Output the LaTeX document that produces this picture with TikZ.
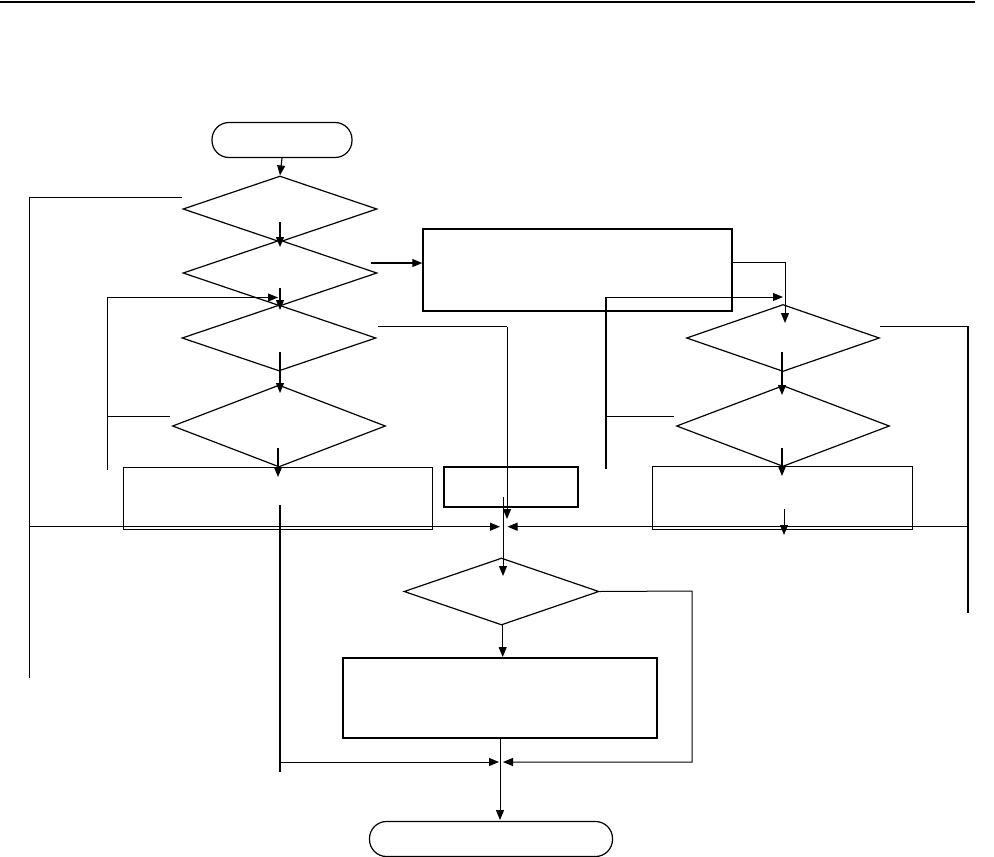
\documentclass[tikz,border=0pt]{standalone}
\usetikzlibrary{shapes.geometric,arrows.meta}
\begin{document}
\begin{tikzpicture}[x=1pt,y=-1pt,
  thick line/.style={line width=1.5pt},
  thin line/.style={line width=1pt},
  dia/.style={diamond,draw,line width=1.2pt,inner sep=0pt},
  box/.style={rectangle,draw,inner sep=0pt},
  term/.style={rectangle,draw,line width=1.2pt,inner sep=0pt,rounded corners=17pt},
  arr/.style={-{Triangle[length=10pt,width=8pt]}},
  conn/.style={line width=1.1pt}]
\useasboundingbox (0,0) rectangle (994,857);
% header rule
\coordinate (rl) at (0,1.5); \coordinate (rr) at (975,1.5);
\draw[line width=2pt] (rl) -- (rr);
% nodes
\node[term,minimum width=140pt,minimum height=35pt] (start) at (282,140) {};
\node[dia,minimum width=194pt,minimum height=66pt] (d1) at (280,209) {};
\node[dia,minimum width=194pt,minimum height=66pt] (d2) at (280,273) {};
\node[dia,minimum width=194pt,minimum height=66pt] (d3) at (279,338) {};
\node[dia,minimum width=213pt,minimum height=82pt] (d4) at (279,426) {};
\node[box,line width=1pt,minimum width=309pt,minimum height=62pt] (b1) at (277.5,498) {};
\node[box,line width=1.4pt,minimum width=134pt,minimum height=40pt] (b2) at (511,487) {};
\node[box,line width=1.5pt,minimum width=309pt,minimum height=82pt] (b3) at (577.5,270) {};
\node[dia,minimum width=193pt,minimum height=67pt] (d6) at (783,338) {};
\node[dia,minimum width=213pt,minimum height=81pt] (d7) at (783,426) {};
\node[box,line width=1pt,minimum width=260pt,minimum height=63pt] (b4) at (782,497.5) {};
\node[dia,minimum width=195pt,minimum height=67pt] (d5) at (501.5,591.5) {};
\node[box,line width=1.5pt,minimum width=314pt,minimum height=80pt] (b5) at (500,698) {};
\node[term,minimum width=243pt,minimum height=35pt] (end) at (491,839) {};
% coordinates
\coordinate (c1a) at (280,222); \coordinate (c1b) at (280,247);
\coordinate (c2a) at (371,263);
\coordinate (l1a) at (107,297.5); \coordinate (l1b) at (278,297.5);
\coordinate (l1c) at (107,470); \coordinate (l1d) at (107,416.5); \coordinate (l1e) at (170,416.5);
\coordinate (c3a) at (280,288); \coordinate (c3b) at (280,310);
\coordinate (r3a) at (378,326.7); \coordinate (r3b) at (507,326.7); \coordinate (r3c) at (507,519);
\coordinate (c4a) at (280,352); \coordinate (c4b) at (280,393);
\coordinate (c5a) at (278,448); \coordinate (c5b) at (278,477);
\coordinate (v1a) at (280,505); \coordinate (v1b) at (280,772);
\coordinate (h1a) at (281,762); \coordinate (h1b) at (499,762);
\coordinate (m1a) at (503,497); \coordinate (m1b) at (503,576);
\coordinate (o1a) at (182,197.3); \coordinate (o1b) at (29.3,197.3); \coordinate (o1c) at (29.3,678);
\coordinate (hm1) at (29.3,526.7); \coordinate (hm2) at (500,526.7);
\coordinate (hr1) at (968,526.7); \coordinate (hr2) at (507.5,526.7);
\coordinate (r6a) at (880,326.7); \coordinate (r6b) at (968,326.7); \coordinate (r6c) at (968,613);
\coordinate (b3r) at (785,262); \coordinate (b3t) at (785,323);
\coordinate (l2a) at (606,297); \coordinate (l2b) at (783,297);
\coordinate (l2c) at (606,469); \coordinate (l2d) at (606,416.7); \coordinate (l2e) at (674,416.7);
\coordinate (c6a) at (782,352); \coordinate (c6b) at (782,395);
\coordinate (c7a) at (782,448); \coordinate (c7b) at (782,476);
\coordinate (c8a) at (784,509); \coordinate (c8b) at (784,535);
\coordinate (r5b) at (692,591); \coordinate (r5c) at (692,762); \coordinate (r5d) at (503,762);
\coordinate (c9a) at (502.7,625); \coordinate (c9b) at (502.7,657);
\coordinate (c10a) at (500,738.5); \coordinate (c10b) at (500,820);
% connectors
\draw[conn,arr] (start.south) -- (d1.north);
\draw[conn,arr] (c1a) -- (c1b);
\draw[conn,arr] (c2a) -- (b3.west |- c2a);
\draw[thin line,arr] (l1c) -- (l1a) -- (l1b);
\draw[thin line] (l1d) -- (l1e);
\draw[conn,arr] (c3a) -- (c3b);
\draw[thick line] (r3a) -- (r3b);
\draw[thin line,arr] (r3b) -- (r3c);
\draw[conn,arr] (c4a) -- (c4b);
\draw[conn,arr] (c5a) -- (c5b);
\draw[thick line] (v1a) -- (v1b);
\draw[thin line,arr] (h1a) -- (h1b);
\draw[thin line,arr] (m1a) -- (m1b);
\draw[thick line] (o1a) -- (o1b);
\draw[thin line] (o1b) -- (o1c);
\draw[thin line,arr] (hm1) -- (hm2);
\draw[thin line,arr] (hr1) -- (hr2);
\draw[thick line] (r6a) -- (r6b) -- (r6c);
\draw[thin line,arr] (b3.east |- b3r) -- (b3r) -- (b3t);
\draw[thick line] (l2c) -- (l2a);
\draw[thin line,arr] (l2a) -- (l2b);
\draw[thin line] (l2d) -- (l2e);
\draw[conn,arr] (c6a) -- (c6b);
\draw[conn,arr] (c7a) -- (c7b);
\draw[thin line,arr] (c8a) -- (c8b);
\draw[thin line,arr] (d5.east) -- (r5b) -- (r5c) -- (r5d);
\draw[thin line,arr] (c9a) -- (c9b);
\draw[thin line,arr] (c10a) -- (c10b);
\end{tikzpicture}
\end{document}
